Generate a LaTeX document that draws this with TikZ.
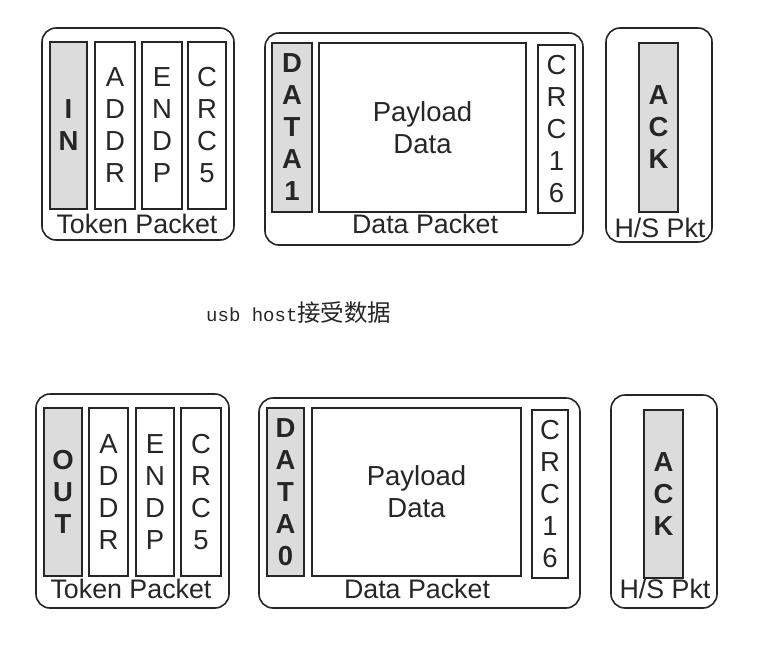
\documentclass[tikz,border=0pt]{standalone}
\usepackage{fontspec}
\setmainfont{Liberation Sans}
\newfontfamily\cjkfont{Noto Sans CJK SC}
\newfontfamily\monofont{Liberation Mono}
\definecolor{pidgray}{HTML}{DCDCDC}
\definecolor{ink}{HTML}{262626}
\tikzset{
	pkt/.style={draw=ink, rounded corners=14pt, line width=1.6pt, inner sep=0pt},
	fld/.style={draw=ink, line width=1.4pt, inner sep=0pt, align=center, text=ink,
		font=\fontsize{27.5}{32}\selectfont},
	pid/.style={fld, fill=pidgray, font=\fontsize{27.5}{32}\selectfont\bfseries},
	pktcap/.style={anchor=base, inner sep=0pt, text=ink, font=\fontsize{26.8}{30}\selectfont},
}
\begin{document}
\begin{tikzpicture}[x=1pt, y=-1pt]
	\fill[white] (0,0) rectangle (774,657);
	\useasboundingbox (0,0) rectangle (774,657);

	% usb host receives data
	\node (TokA) at (138,134) [pkt, minimum width=192pt, minimum height=212pt] {};
	\node (IN) at (68.5,125.5) [pid, minimum width=37pt, minimum height=167pt] {I\\N};
	\node (AddrA) at (115,125.5) [fld, minimum width=40pt, minimum height=167pt] {A\\D\\D\\R};
	\node (EndpA) at (162,125.5) [fld, minimum width=40pt, minimum height=167pt] {E\\N\\D\\P};
	\node (CrcA) at (207,125.5) [fld, minimum width=38pt, minimum height=167pt] {C\\R\\C\\5};
	\node (TokCapA) at (137,233) [pktcap] {Token Packet};

	\node (DatA) at (424,139) [pkt, minimum width=318pt, minimum height=212pt] {};
	\node (DATA1) at (292,127.5) [pid, minimum width=40pt, minimum height=169pt] {D\\A\\T\\A\\1};
	\node (PayA) at (422.5,127.5) [fld, minimum width=207pt, minimum height=169pt] {Payload\\Data};
	\node (CrcDA) at (556.5,129) [fld, minimum width=37pt, minimum height=168pt] {C\\R\\C\\1\\6};
	\node (DatCapA) at (425,233) [pktcap] {Data Packet};

	\node (HsA) at (659,135) [pkt, minimum width=106pt, minimum height=214pt] {};
	\node (AckA) at (658.5,127.5) [pid, minimum width=39pt, minimum height=169pt] {A\\C\\K};
	\node (HsCapA) at (660,237) [pktcap] {H/S Pkt};

	\node (note) at (206,313) [anchor=west, inner sep=0pt, text=ink]
		{{\monofont\fontsize{19}{20}\selectfont usb host}{\cjkfont\fontsize{23.5}{24}\selectfont 接受数据}};

	% usb host sends data
	\node (TokB) at (132.5,501) [pkt, minimum width=193pt, minimum height=214pt] {};
	\node (OUT) at (63,492) [pid, minimum width=38pt, minimum height=168pt] {O\\U\\T};
	\node (AddrB) at (108.5,492) [fld, minimum width=39pt, minimum height=168pt] {A\\D\\D\\R};
	\node (EndpB) at (155,492) [fld, minimum width=38pt, minimum height=168pt] {E\\N\\D\\P};
	\node (CrcB) at (201,492) [fld, minimum width=40pt, minimum height=168pt] {C\\R\\C\\5};
	\node (TokCapB) at (131,598) [pktcap] {Token Packet};

	\node (DatB) at (419.5,503) [pkt, minimum width=321pt, minimum height=210pt] {};
	\node (DATA0) at (285.5,492) [pid, minimum width=37pt, minimum height=168pt] {D\\A\\T\\A\\0};
	\node (PayB) at (416.5,492) [fld, minimum width=209pt, minimum height=168pt] {Payload\\Data};
	\node (CrcDB) at (550,494) [fld, minimum width=36pt, minimum height=168pt] {C\\R\\C\\1\\6};
	\node (DatCapB) at (417,598) [pktcap] {Data Packet};

	\node (HsB) at (664,501.5) [pkt, minimum width=106pt, minimum height=213pt] {};
	\node (AckB) at (663.5,494) [pid, minimum width=39pt, minimum height=168pt] {A\\C\\K};
	\node (HsCapB) at (665,598) [pktcap] {H/S Pkt};
\end{tikzpicture}
\end{document}
